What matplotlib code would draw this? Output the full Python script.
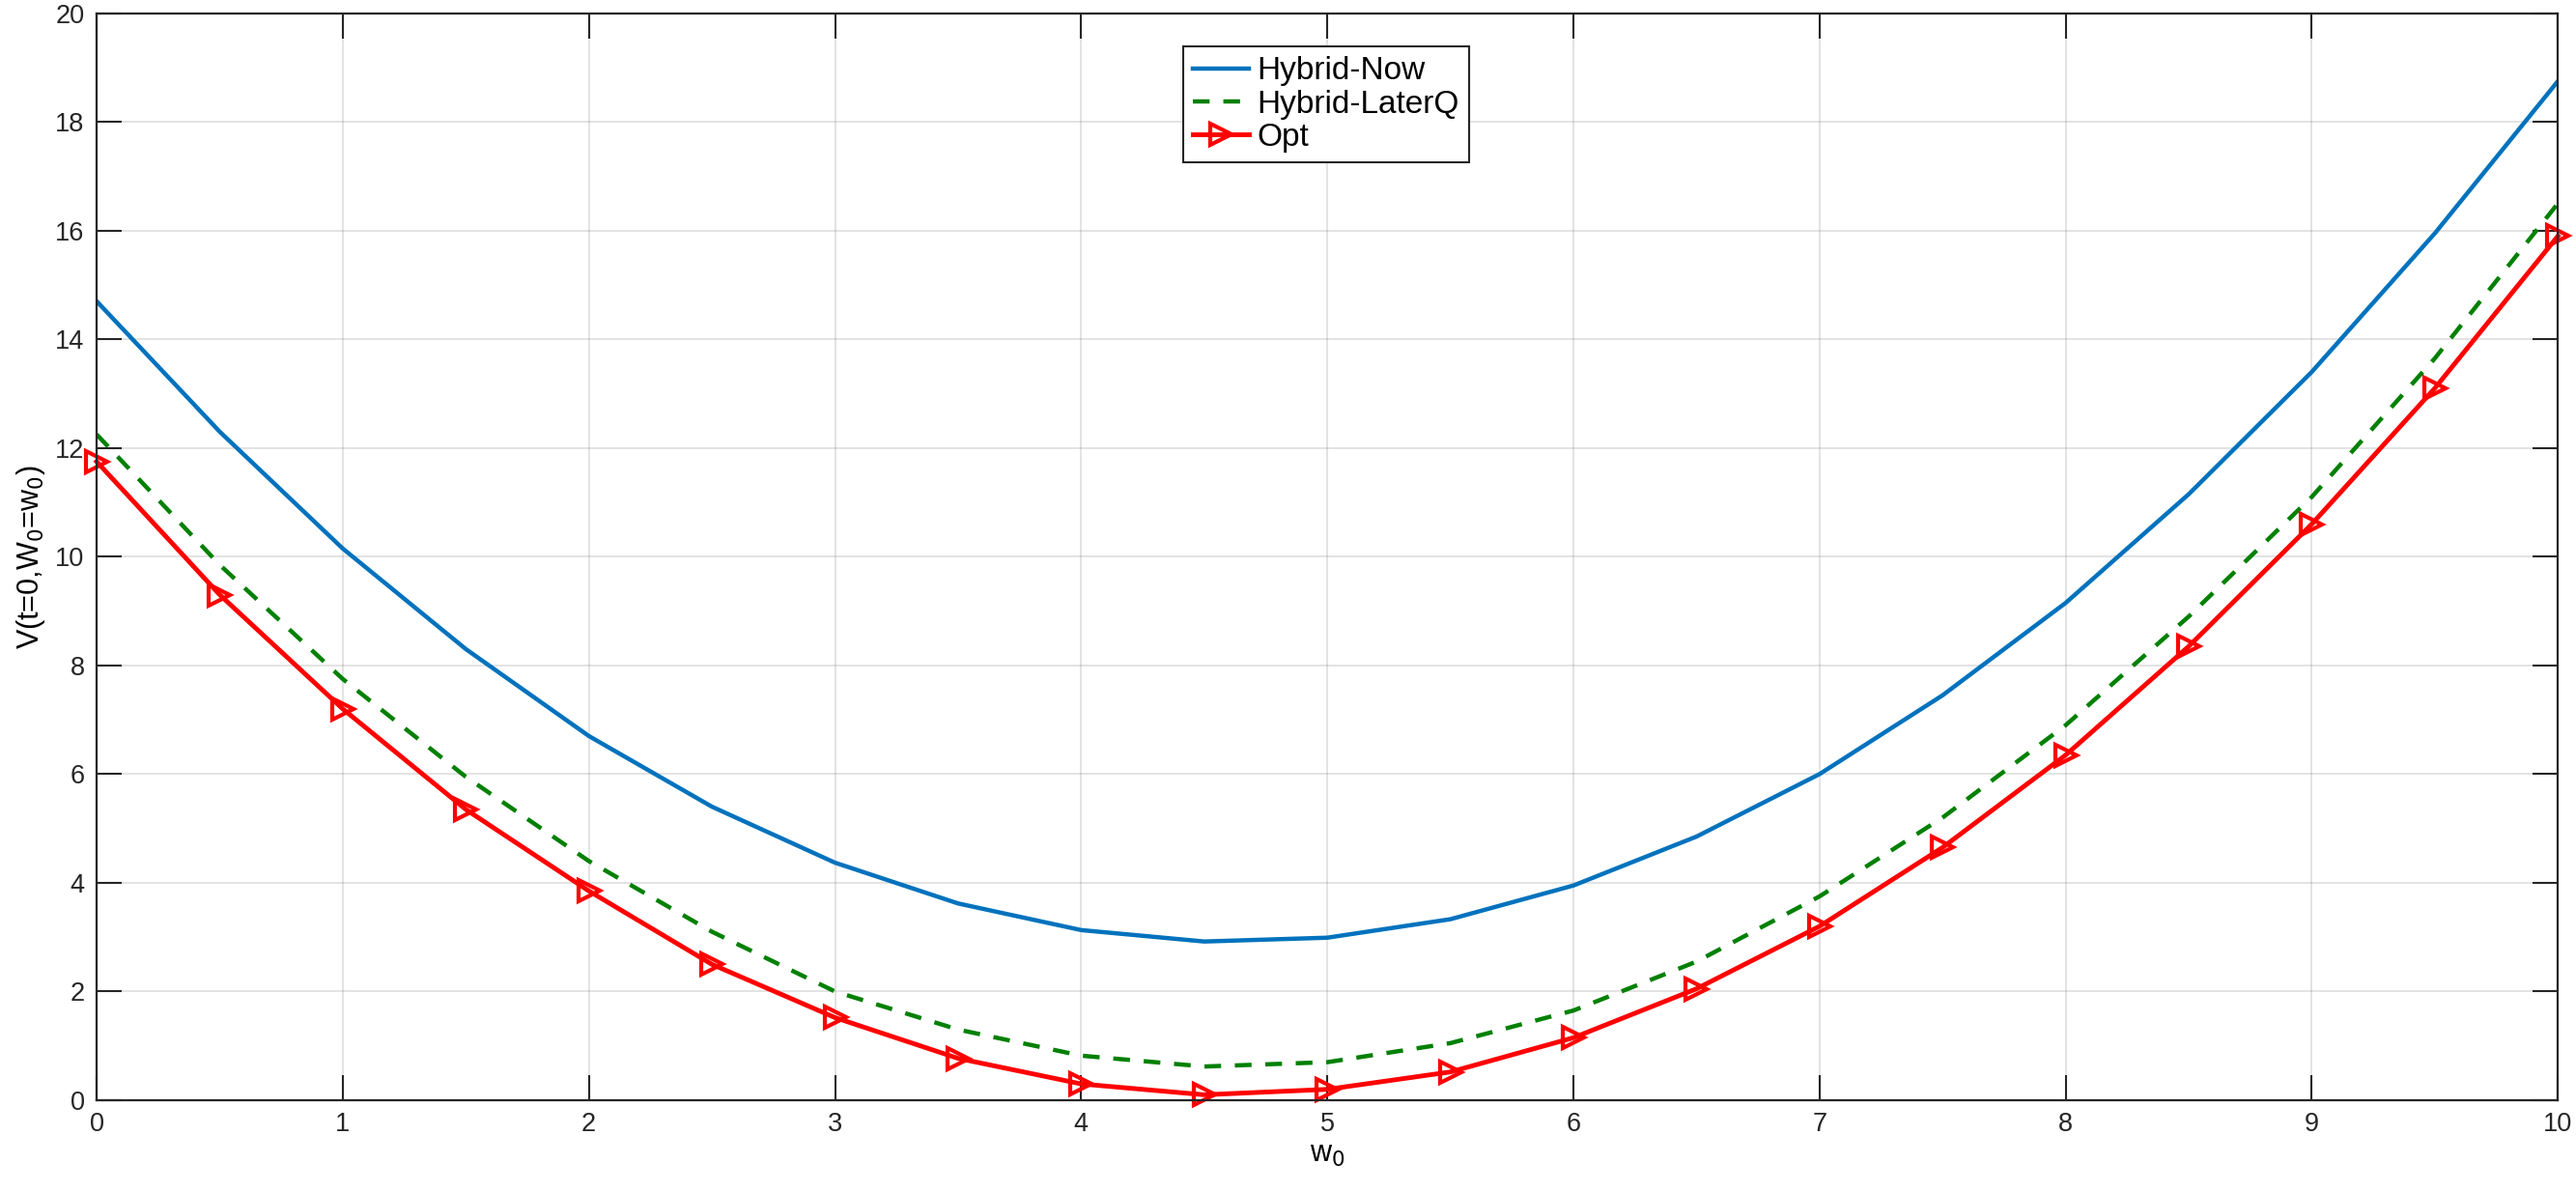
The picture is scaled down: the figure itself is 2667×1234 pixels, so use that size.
import numpy as np
import matplotlib
matplotlib.use("Agg")
import matplotlib.pyplot as plt

plt.rcParams['font.family'] = ['Liberation Sans', 'DejaVu Sans']

# data
w0 = [0, 0.5, 1, 1.5, 2, 2.5, 3, 3.5, 4, 4.5, 5, 5.5, 6, 6.5, 7, 7.5, 8, 8.5, 9, 9.5, 10]
hybrid_now = [14.7, 12.3, 10.15, 8.3, 6.7, 5.4, 4.37, 3.62, 3.13, 2.92, 2.99,
              3.33, 3.95, 4.85, 6.0, 7.45, 9.15, 11.15, 13.4, 15.95, 18.75]
hybrid_laterq = [12.25, 9.85, 7.75, 5.95, 4.4, 3.1, 2.0, 1.3, 0.82, 0.62, 0.7,
                 1.05, 1.65, 2.55, 3.75, 5.2, 6.9, 8.9, 11.1, 13.65, 16.5]
opt = [11.75, 9.3, 7.2, 5.35, 3.85, 2.5, 1.52, 0.77, 0.3, 0.1, 0.2,
       0.52, 1.15, 2.05, 3.2, 4.65, 6.35, 8.35, 10.6, 13.1, 15.9]

xticks = list(range(0, 11))
yticks = list(range(0, 21, 2))

dark = (0.15, 0.15, 0.15)

fig = plt.figure(figsize=(26.67, 12.34), dpi=100)
ax = fig.add_axes([0.0375, 0.077, 0.9555, 0.912])

ax.plot(w0, hybrid_now, color='#0072BD', lw=3.2, label='Hybrid-Now')
ax.plot(w0, hybrid_laterq, color=(0, 0.5, 0), lw=3.2, ls=(0, (3.9, 3.2)), label='Hybrid-LaterQ')
ax.plot(w0, opt, color='red', lw=3.5, marker='>', ms=16, mfc='none', mec='red',
        mew=3, label='Opt', clip_on=False)

ax.set_xlim(0, 10)
ax.set_ylim(0, 20)
ax.set_xticks(xticks)
ax.set_yticks(yticks)
ax.grid(True, color=dark, alpha=0.15, lw=1.2)
ax.set_axisbelow(True)

ax.tick_params(direction='in', length=19, width=1.5, labelsize=19.5, colors=dark,
               top=True, right=True, pad=9)
for s in ax.spines.values():
    s.set_color(dark)
    s.set_linewidth(1.6)

ax.set_xlabel('w$_0$', fontsize=22, labelpad=2)
ax.set_ylabel('V(t=0,W$_0$=w$_0$)', fontsize=22, labelpad=6)

leg = ax.legend(loc='upper left', bbox_to_anchor=(0.4413, 0.969), fontsize=24,
                fancybox=False, framealpha=1, edgecolor=dark,
                handlelength=1.75, handletextpad=0.25, borderpad=0.3, labelspacing=0.1,
                borderaxespad=0)
leg.get_frame().set_linewidth(1.5)

fig.savefig('out.png', dpi=100)
